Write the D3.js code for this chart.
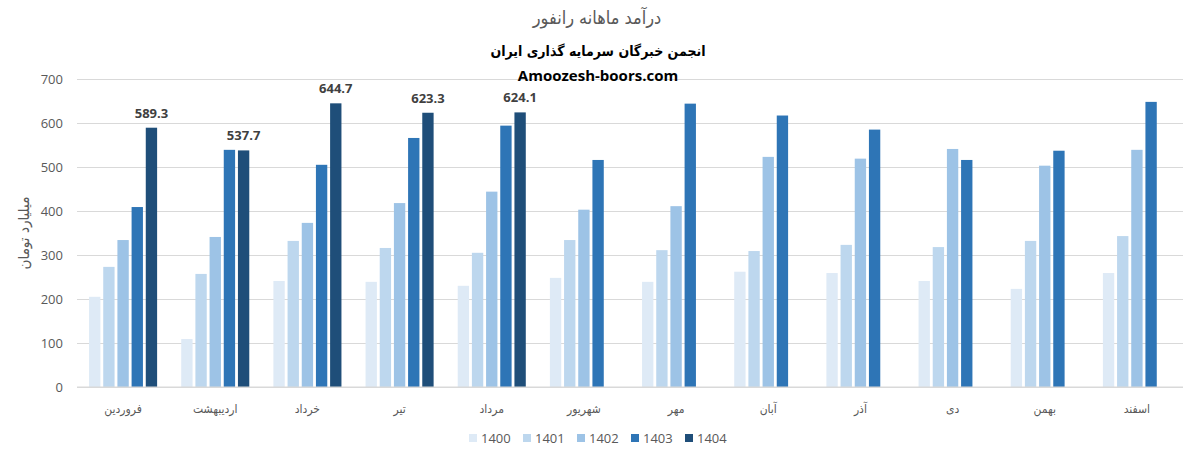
<!DOCTYPE html>
<html lang="fa">
<head>
    <meta charset="UTF-8">
    <title>درآمد ماهانه رانفور</title>
    <style>
        body { margin: 0; background: #fff; }
        .tick text { fill: #595959; }
    </style>
</head>
<body>
    <script src="https://d3js.org/d3.v7.min.js"></script>
    <script>
        // Data
        const months = ["فروردین", "اردیبهشت", "خرداد", "تیر", "مرداد", "شهریور",
                        "مهر", "آبان", "آذر", "دی", "بهمن", "اسفند"];
        const years = ["1400", "1401", "1402", "1403", "1404"];
        const v1400 = [205, 109, 241, 239, 230, 248, 239, 262, 259, 241, 223, 259];
        const v1401 = [273, 257, 332, 316, 305, 334, 311, 309, 323, 318, 332, 343];
        const v1402 = [334, 341, 373, 418, 444, 403, 411, 523, 519, 541, 503, 539];
        const v1403 = [409, 539, 505, 566, 594, 516, 644, 617, 585, 516, 537, 648];
        const v1404 = [589.3, 537.7, 644.7, 623.3, 624.1, null, null, null, null, null, null, null];
        const yTicks = [0, 100, 200, 300, 400, 500, 600, 700];

        const series = [v1400, v1401, v1402, v1403, v1404];
        const colors = ["#deeaf6", "#bdd7ee", "#9dc3e6", "#2e75b6", "#1f4e79"];

        const W = 1191, H = 462;
        const plot = {left: 77, right: 1183, top: 79, bottom: 387};
        const persian = "'DejaVu Sans Condensed', 'DejaVu Sans', sans-serif";

        const svg = d3.select("body").append("svg")
            .attr("width", W)
            .attr("height", H);

        const x = d3.scaleBand().domain(months).range([plot.left, plot.right]);
        const xSub = d3.scaleBand().domain(years)
            .range([0, x.bandwidth()])
            .paddingInner(0.2)
            .paddingOuter(0.85);
        const y = d3.scaleLinear().domain([0, 700]).range([plot.bottom, plot.top]);
        const color = d3.scaleOrdinal().domain(years).range(colors);

        // gridlines + y tick labels
        svg.append("g")
            .attr("transform", "translate(" + plot.left + ",0)")
            .call(d3.axisLeft(y).tickValues(yTicks).tickSize(-(plot.right - plot.left)).tickPadding(14))
            .call(g => g.select(".domain").remove())
            .call(g => g.selectAll(".tick line").attr("stroke", "#d9d9d9"))
            .call(g => g.selectAll(".tick text")
                .style("font-family", "'Open Sans', sans-serif")
                .style("font-size", "13px"));

        // bars
        const groups = svg.selectAll(".grp")
            .data(months)
            .enter().append("g")
            .attr("transform", d => "translate(" + x(d) + ",0)");

        groups.selectAll("rect")
            .data((m, i) => years.map((yr, k) => ({yr: yr, v: series[k][i]})).filter(d => d.v != null))
            .enter().append("rect")
            .attr("x", d => xSub(d.yr))
            .attr("width", xSub.bandwidth())
            .attr("y", d => y(d.v))
            .attr("height", d => y(0) - y(d.v))
            .attr("fill", d => color(d.yr));

        // labels on 1404
        groups.selectAll(".lbl")
            .data((m, i) => v1404[i] == null ? [] : [v1404[i]])
            .enter().append("text")
            .attr("x", xSub("1404") + xSub.bandwidth() / 2)
            .attr("y", d => y(d) - 10)
            .attr("text-anchor", "middle")
            .style("font-family", "'Open Sans', sans-serif")
            .style("font-size", "13px")
            .style("font-weight", "bold")
            .attr("fill", "#404040")
            .text(d => d.toFixed(1));

        // x axis baseline and labels
        svg.append("line")
            .attr("x1", plot.left).attr("x2", plot.right)
            .attr("y1", y(0)).attr("y2", y(0))
            .attr("stroke", "#d9d9d9");

        svg.selectAll(".xl")
            .data(months)
            .enter().append("text")
            .attr("x", d => x(d) + x.bandwidth() / 2)
            .attr("y", 413)
            .attr("text-anchor", "middle")
            .attr("direction", "rtl")
            .style("font-family", persian)
            .style("font-size", "12px")
            .attr("fill", "#595959")
            .text(d => d);

        // titles
        svg.append("text")
            .attr("x", 597).attr("y", 24)
            .attr("text-anchor", "middle")
            .style("font-family", persian)
            .style("font-size", "18px")
            .attr("fill", "#595959")
            .text("درآمد ماهانه رانفور");

        svg.append("text")
            .attr("x", 598).attr("y", 56)
            .attr("text-anchor", "middle")
            .style("font-family", persian)
            .style("font-size", "14px")
            .style("font-weight", "bold")
            .attr("fill", "#000")
            .text("انجمن خبرگان سرمایه گذاری ایران");

        svg.append("text")
            .attr("x", 598).attr("y", 81)
            .attr("text-anchor", "middle")
            .style("font-family", "'Open Sans', sans-serif")
            .style("font-size", "15px")
            .style("font-weight", "bold")
            .attr("fill", "#000")
            .text("Amoozesh-boors.com");

        // y axis title
        svg.append("text")
            .attr("transform", "translate(29," + ((plot.top + plot.bottom) / 2) + ") rotate(-90)")
            .attr("text-anchor", "middle")
            .style("font-family", persian)
            .style("font-size", "15px")
            .attr("fill", "#595959")
            .text("میلیارد تومان");

        // legend
        const legend = svg.append("g").attr("transform", "translate(469,438)");
        const item = legend.selectAll("g")
            .data(years)
            .enter().append("g")
            .attr("transform", (d, i) => "translate(" + (i * 54) + ",0)");
        item.append("rect")
            .attr("x", 0).attr("y", -4)
            .attr("width", 8).attr("height", 8)
            .attr("fill", d => color(d));
        item.append("text")
            .attr("x", 12).attr("y", 5)
            .style("font-family", "'Open Sans', sans-serif")
            .style("font-size", "13px")
            .attr("fill", "#595959")
            .text(d => d);
    </script>
</body>
</html>
